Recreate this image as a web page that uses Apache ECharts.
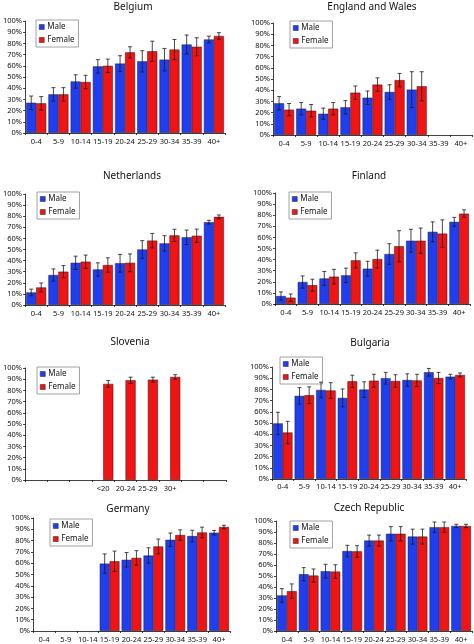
<!DOCTYPE html>
<html>
<head>
<meta charset="utf-8">
<script src="https://cdn.jsdelivr.net/npm/echarts@6/dist/echarts.min.js"></script>
<style>
html,body{margin:0;padding:0;background:#fff;}
#chart{width:474px;height:644px;}
</style>
</head>
<body>
<div id="chart"></div>
<script>
// ---- categories / tick labels ----
const ages = ['0-4','5-9','10-14','15-19','20-24','25-29','30-34','35-39','40+'];
const sloveniaAges = ['','\u00a0','\u00a0\u00a0','<20','20-24','25-29','30+','\u00a0\u00a0\u00a0','\u00a0\u00a0\u00a0\u00a0'];
const yTicks = [0,10,20,30,40,50,60,70,80,90,100];
const seriesNames = ['Male','Female'];

// ---- data (percent) and symmetric error half-widths ----
const belgiumMale      = [27, 34.5, 46, 59.5, 62, 64, 65.5, 79, 83.5];
const belgiumMaleErr   = [6, 6, 6, 6, 7, 9.5, 10, 8.5, 3];
const belgiumFemale    = [26.5, 34.5, 45.5, 60, 72, 73, 74.5, 77, 86.6];
const belgiumFemaleErr = [6, 6, 6, 6, 5, 9, 9, 8, 3];

const englandMale      = [28.3, 23.5, 19, 24.7, 33.3, 38.4, 40.5, null, null];
const englandMaleErr   = [6, 5.5, 5, 6, 6, 6.5, 16, null, null];
const englandFemale    = [22.6, 21.7, 23.5, 37.8, 45, 49, 43.5, null, null];
const englandFemaleErr = [5.5, 5.5, 5.5, 6, 6, 6, 13, null, null];

const netherlandsMale      = [11.3, 27, 38, 32, 37.6, 50, 55.5, 61, 74.6];
const netherlandsMaleErr   = [3, 5.5, 6, 6, 8, 8, 7, 6.5, 1.7];
const netherlandsFemale    = [15.8, 30, 39, 36, 38, 58, 62.7, 62.4, 79.4];
const netherlandsFemaleErr = [4, 5.5, 6, 6.5, 8, 6.5, 5.5, 6, 1.7];

const finlandMale      = [7.2, 19.8, 23, 25.8, 31.8, 45, 57, 65, 74];
const finlandMaleErr   = [3.7, 5.5, 6.3, 6.5, 6.7, 9.3, 10.3, 9, 4];
const finlandFemale    = [5.7, 17, 24.6, 39.3, 40.5, 52, 57, 63.4, 81.4];
const finlandFemaleErr = [3.3, 5.3, 6.6, 6.8, 8, 14, 11.4, 12.4, 3.4];

const sloveniaMale      = [null, null, null, null, null, null, null, null, null];
const sloveniaMaleErr   = [null, null, null, null, null, null, null, null, null];
const sloveniaFemale    = [null, null, null, 85.8, 89, 89.6, 92, null, null];
const sloveniaFemaleErr = [null, null, null, 3, 2.8, 2.2, 2, null, null];

const bulgariaMale      = [49.6, 74.2, 79.5, 72.4, 79.8, 90, 88.4, 95.3, 91.4];
const bulgariaMaleErr   = [10, 7.4, 7, 8, 7, 5.2, 5.5, 3.4, 2.1];
const bulgariaFemale    = [41.5, 74.8, 79, 87.2, 87.8, 87.5, 88, 90.2, 92.9];
const bulgariaFemaleErr = [10, 7.5, 7, 5.5, 5.7, 5.6, 5.5, 5, 1.8];

const germanyMale      = [null, null, null, 59.6, 63, 66.8, 80.7, 84, 87];
const germanyMaleErr   = [null, null, null, 8.6, 6.4, 6.8, 6, 5.2, 2];
const germanyFemale    = [null, null, null, 61.7, 64.7, 74.8, 84.9, 87.2, 92];
const germanyFemaleErr = [null, null, null, 9, 6.4, 6.6, 4.6, 4.7, 1.5];

const czechMale      = [32.3, 51.6, 54.3, 72.7, 82.2, 88.4, 85.8, 94.4, 95.5];
const czechMaleErr   = [6.2, 6, 6.3, 5.2, 5, 6.5, 6.8, 4.7, 1.5];
const czechFemale    = [36.2, 50.4, 54, 72.4, 82.2, 88.4, 85.8, 94.4, 95.5];
const czechFemaleErr = [6.6, 6, 6.2, 5.2, 5, 6.5, 6.8, 4.7, 1.5];

const panelTitles = ['Belgium','England and Wales','Netherlands','Finland','Slovenia','Bulgaria','Germany','Czech Republic'];
const panelCats = [ages, ages, ages, ages, sloveniaAges, ages, ages, ages];
const panelMale = [belgiumMale, englandMale, netherlandsMale, finlandMale, sloveniaMale, bulgariaMale, germanyMale, czechMale];
const panelMaleErr = [belgiumMaleErr, englandMaleErr, netherlandsMaleErr, finlandMaleErr, sloveniaMaleErr, bulgariaMaleErr, germanyMaleErr, czechMaleErr];
const panelFemale = [belgiumFemale, englandFemale, netherlandsFemale, finlandFemale, sloveniaFemale, bulgariaFemale, germanyFemale, czechFemale];
const panelFemaleErr = [belgiumFemaleErr, englandFemaleErr, netherlandsFemaleErr, finlandFemaleErr, sloveniaFemaleErr, bulgariaFemaleErr, germanyFemaleErr, czechFemaleErr];

// ---- layout (pixels) ----
const gridBoxes = [
  {left:24,  top:21,  width:201, height:112},
  {left:273, top:23,  width:199, height:112},
  {left:25,  top:194, width:200, height:111},
  {left:275, top:193, width:195, height:111},
  {left:22,  top:368, width:204, height:112},
  {left:272, top:367, width:194, height:112},
  {left:33,  top:518, width:197, height:113},
  {left:276, top:521, width:196, height:112}
];
const titlePos = [[133,7],[372,7],[132,176],[369,176],[130,342],[370,343],[128,509],[369,508]];
const legendPos = [[36,20],[290,21],[37,192],[289,192],[37,367],[280,357],[50,519],[290,521]];
const labelMargin = [5,5,5,5,5,4,5,5];

const FONT = 'Noto Sans';
const BLUE = '#1e3ef0';
const RED = '#f01414';

function errRenderer(sign) {
  return function (params, api) {
    const x = api.value(0), v = api.value(1), e = api.value(2);
    if (isNaN(v) || isNaN(e)) return null;
    const top = api.coord([x, v + e]);
    const bot = api.coord([x, v - e]);
    const band = api.size([1, 0])[0];
    const cx = top[0] + sign * band * 0.225;
    const cap = band * 0.09;
    const st = {stroke: '#1a1a1a', lineWidth: 0.8};
    return {type: 'group', children: [
      {type: 'line', shape: {x1: cx, y1: top[1], x2: cx, y2: bot[1]}, style: st},
      {type: 'line', shape: {x1: cx - cap, y1: top[1], x2: cx + cap, y2: top[1]}, style: st},
      {type: 'line', shape: {x1: cx - cap, y1: bot[1], x2: cx + cap, y2: bot[1]}, style: st}
    ]};
  };
}

const grids = [], xAxes = [], yAxes = [], series = [], legends = [], graphics = [];
for (let i = 0; i < 8; i++) {
  grids.push(Object.assign({containLabel: false}, gridBoxes[i]));
  xAxes.push({
    gridIndex: i, type: 'category', data: panelCats[i],
    axisLine: {show: true, lineStyle: {color: '#111', width: 0.8}},
    axisTick: {show: true, alignWithLabel: false, length: 2, lineStyle: {color: '#111', width: 0.8}},
    axisLabel: {interval: 0, fontSize: 7.5, fontFamily: FONT, color: '#111', margin: labelMargin[i]},
    splitLine: {show: false}
  });
  yAxes.push({
    gridIndex: i, type: 'value', min: yTicks[0], max: yTicks[yTicks.length - 1], interval: yTicks[1] - yTicks[0],
    axisLine: {show: true, lineStyle: {color: '#111', width: 0.8}},
    axisTick: {show: true, length: 2, lineStyle: {color: '#111', width: 0.8}},
    axisLabel: {formatter: '{value}%', fontSize: 7.5, fontFamily: FONT, color: '#111', margin: 3},
    splitLine: {show: false}
  });
  const male = panelMale[i], female = panelFemale[i];
  series.push({
    name: seriesNames[0], type: 'bar', xAxisIndex: i, yAxisIndex: i, data: male,
    barGap: '0%', barCategoryGap: '10%',
    itemStyle: {color: BLUE, borderColor: '#1b1b3a', borderWidth: 0.5}
  });
  series.push({
    name: seriesNames[1], type: 'bar', xAxisIndex: i, yAxisIndex: i, data: female,
    barGap: '0%', barCategoryGap: '10%',
    itemStyle: {color: RED, borderColor: '#3a0b0b', borderWidth: 0.5}
  });
  const mErr = [], fErr = [];
  male.forEach((v, k) => { if (v != null) mErr.push([k, v, panelMaleErr[i][k]]); });
  female.forEach((v, k) => { if (v != null) fErr.push([k, v, panelFemaleErr[i][k]]); });
  series.push({type: 'custom', xAxisIndex: i, yAxisIndex: i, data: mErr, renderItem: errRenderer(-1), encode: {x: 0, y: 1}, z: 5, silent: true});
  series.push({type: 'custom', xAxisIndex: i, yAxisIndex: i, data: fErr, renderItem: errRenderer(1), encode: {x: 0, y: 1}, z: 5, silent: true});
  legends.push({
    data: seriesNames, orient: 'vertical', left: legendPos[i][0], top: legendPos[i][1],
    icon: 'rect', itemWidth: 5, itemHeight: 5, itemGap: 5, padding: [3, 4, 3, 3],
    borderColor: '#8a8a8a', borderWidth: 0.8, backgroundColor: '#fff',
    itemStyle: {borderColor: '#222', borderWidth: 0.5},
    textStyle: {fontSize: 8, fontFamily: FONT, color: '#111', padding: [0, 0, 0, -2]},
    selectedMode: false
  });
  graphics.push({
    type: 'text', x: titlePos[i][0], y: titlePos[i][1],
    style: {text: panelTitles[i], fontSize: 10, fontFamily: FONT, fill: '#111', textAlign: 'center', textVerticalAlign: 'middle'}
  });
}

const chart = echarts.init(document.getElementById('chart'), null, {renderer: 'canvas'});
chart.setOption({
  animation: false,
  backgroundColor: '#fff',
  grid: grids, xAxis: xAxes, yAxis: yAxes, series: series,
  legend: legends, graphic: graphics
});
</script>
</body>
</html>
